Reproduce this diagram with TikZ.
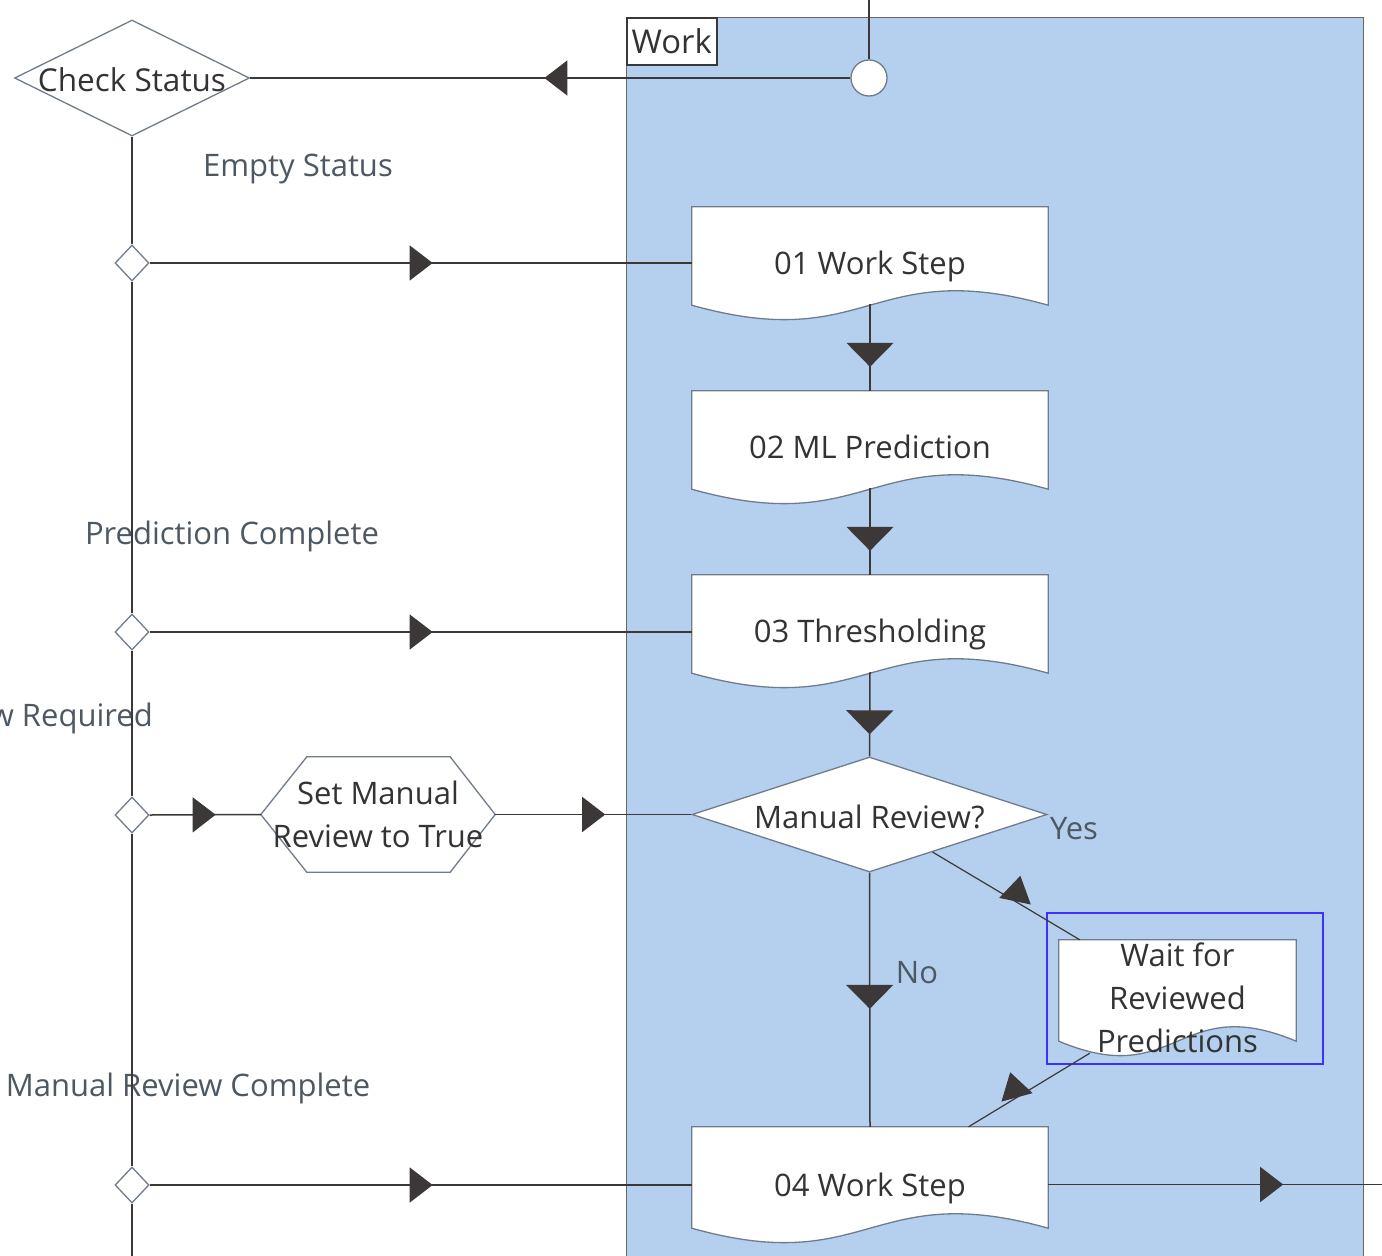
\documentclass[tikz,border=0pt]{standalone}
\usepackage{fontspec}
\setmainfont{Open Sans}
\usetikzlibrary{shapes.geometric,arrows.meta,decorations.markings,calc}
\pgfdeclarelayer{bg}
\pgfsetlayers{bg,main}
\definecolor{lanefill}{RGB}{180,208,238}
\definecolor{shapeln}{RGB}{112,124,140}
\definecolor{conn}{RGB}{60,56,56}
\definecolor{textc}{RGB}{51,51,51}
\definecolor{labc}{RGB}{78,88,98}
\definecolor{selc}{RGB}{64,48,255}
\newcommand\mainfs{\fontsize{31}{43}\selectfont}
\newcommand\bigfs{\fontsize{31.5}{43}\selectfont}
\newcommand\docshape[1]{%
  \begin{pgfonlayer}{bg}
  \draw[shapeline, fill=white] (#1.north west) -- (#1.north east)
    -- ($(#1.south east)+(0,-14)$)
    .. controls ($(#1.south)+(0,-64)$) and ($(#1.south)+(0,36)$) ..
    ($(#1.south west)+(0,-14)$) -- cycle;
  \end{pgfonlayer}}
\tikzset{
  shapeline/.style={draw=shapeln, line width=1.3pt},
  connline/.style={draw=conn, line width=1.5pt},
  docnode/.style={rectangle, inner sep=0pt, draw=none, font=\mainfs, text=textc, align=center, text depth=0pt},
  bigdia/.style={diamond, shapeline, fill=white, inner sep=0pt},
  smalldia/.style={diamond, shapeline, fill=white, inner sep=0pt, minimum width=34pt, minimum height=36pt},
  condlab/.style={font=\mainfs, text=labc, inner sep=0pt, text depth=0pt},
  harr/.style={postaction={decorate}, decoration={markings, mark=at position #1 with {\arrow{Triangle[length=23pt,width=35pt]}}}},
  varr/.style={postaction={decorate}, decoration={markings, mark=at position #1 with {\arrow{Triangle[length=24pt,width=47pt]}}}},
  rarr/.style 2 args={postaction={decorate}, decoration={markings, mark=at position #1 with {\pgftransformrotate{#2}\pgftransformxshift{26pt}\arrow{Triangle[length=26pt,width=32pt]}}}},
}
\begin{document}
\begin{tikzpicture}[x=1pt,y=-1pt]
\useasboundingbox (0,0) rectangle (1382,1256);
\clip (0,0) rectangle (1382,1256);

% swimlane
\begin{pgfonlayer}{bg}
\fill[white] (0,0) rectangle (1382,1256);
\draw[fill=lanefill, draw=black!60, line width=1pt] (626,17) rectangle (1363,1275);
\end{pgfonlayer}
\node[draw=conn, fill=white, line width=1.5pt, minimum width=90pt, minimum height=47pt,
      anchor=north west, inner sep=0pt, font=\fontsize{32.8}{40}\selectfont, text=textc] (lanelab) at (626,17) {Work};

% start
\node[circle, shapeline, fill=white, minimum size=36pt, inner sep=0pt] (start) at (869,78) {};
\coordinate (topin) at (869,-5);

% check status
\node[bigdia, minimum width=235pt, minimum height=116pt,
      label={[font=\bigfs, text=textc, yshift=-2pt]center:Check Status}] (check) at (132,78) {};

% small diamonds
\node[smalldia] (d1) at (132,263) {};
\node[smalldia] (d2) at (132,632) {};
\node[smalldia] (d3) at (132,815) {};
\node[smalldia] (d4) at (132,1185) {};
\coordinate (vbot) at (132,1270);

% condition labels
\node[condlab] (l1) at (298,165) {Empty Status};
\node[condlab] (l2) at (232,533) {Prediction Complete};
\node[condlab, anchor=east] (l3) at (153,715) {Manual Review Required};
\node[condlab] (l4) at (188,1085) {Manual Review Complete};

% document boxes
\node[docnode, minimum width=356pt, minimum height=112pt] (b1) at (870,263) {01 Work Step};
\docshape{b1}
\node[docnode, minimum width=356pt, minimum height=112pt] (b2) at (870,447) {02 ML Prediction};
\docshape{b2}
\node[docnode, minimum width=356pt, minimum height=112pt] (b3) at (870,631) {03 Thresholding};
\docshape{b3}
\node[docnode, minimum width=356pt, minimum height=115pt] (b4) at (870,1184.5) {04 Work Step};
\docshape{b4}
\node[docnode, minimum width=237pt, minimum height=115pt] (w) at (1177.5,997.5) {Wait for\\Reviewed\\Predictions};
\docshape{w}

% hexagon
\node[docnode, minimum width=234pt, minimum height=115pt] (hex) at (378,814.5) {Set Manual\\Review to True};
\begin{pgfonlayer}{bg}
\draw[shapeline, fill=white] (hex.west) -- ($(hex.north west)+(46,0)$) -- ($(hex.north east)+(-45,0)$)
  -- (hex.east) -- ($(hex.south east)+(-45,0)$) -- ($(hex.south west)+(46,0)$) -- cycle;
\end{pgfonlayer}

% manual review decision
\node[bigdia, minimum width=355pt, minimum height=115pt,
      label={[font=\mainfs, text=textc, yshift=-2pt]center:Manual Review?}] (mr) at (869.5,814.5) {};

% selection rectangle
\node[draw=selc, line width=2.5pt, minimum width=276pt, minimum height=151pt, inner sep=0pt] (sel) at (1185,988.5) {};

% labels on flows
\node[condlab] (yes) at (1074,828) {Yes};
\node[condlab] (no) at (917,972) {No};

% connectors
\draw[connline] (topin) -- (start.north);
\draw[connline, harr=306pt] (start.west) -- (check.east);
\draw[connline] (check.south) -- (d1.north);
\draw[connline] (d1.south) -- (d2.north);
\draw[connline] (d2.south) -- (d3.north);
\draw[connline] (d3.south) -- (d4.north);
\draw[connline] (d4.south) -- (vbot);
\draw[connline, harr=283pt] (d1.east) -- (d1.east -| b1.west);
\draw[connline, harr=283pt] (d2.east) -- (d2.east -| b3.west);
\draw[connline, harr=66pt] (d3.east) -- (hex.west);
\draw[connline, harr=110pt] (hex.east) -- (mr.west);
\draw[connline, harr=283pt] (d4.east) -- (d4.east -| b4.west);
\draw[connline, varr=-24pt] ($(b1.south)+(0,-15)$) -- (b2.north);
\draw[connline, varr=-24pt] ($(b2.south)+(0,-15)$) -- (b3.north);
\draw[connline, varr=-22pt] ($(b3.south)+(0,-15)$) -- (mr.north);
\draw[connline, varr=-118pt] (mr.south) -- (b4.north);
\draw[connline, line width=1.2pt, rarr={0.56}{109}] ($(mr.south)!0.354!(mr.east)$) -- ($(w.north west)+(21,0)$);
\draw[connline, line width=1.2pt, rarr={0.6}{-106}] ($(w.south west)+(31,-2)$) -- ($(b4.north)+(98.5,0)$);
\coordinate (rout) at (1395,1184.5);
\draw[connline, harr=235pt] (b4.east) -- (rout);
\end{tikzpicture}
\end{document}
